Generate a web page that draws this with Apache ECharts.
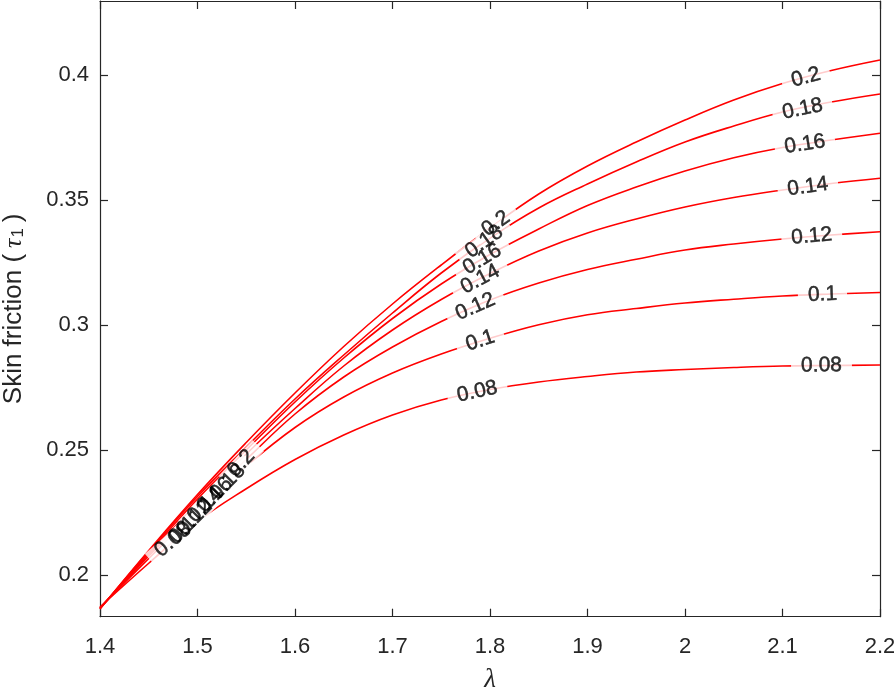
<!DOCTYPE html>
<html><head><meta charset="utf-8">
<script src="https://cdn.jsdelivr.net/npm/echarts@6/dist/echarts.min.js"></script>
<style>html,body{margin:0;padding:0;background:#fff}#c{width:894px;height:689px}</style>
</head><body><div id="c"></div>
<script>
// ---- data ----
const lambda = [1.4, 1.45, 1.5, 1.55, 1.6, 1.65, 1.7, 1.75, 1.8, 1.85, 1.9, 1.95, 2.0, 2.05, 2.1, 2.15, 2.2];
const levels = [0.08, 0.1, 0.12, 0.14, 0.16, 0.18, 0.2];
const tau008 = [0.1872, 0.2047, 0.2214, 0.2345, 0.2462, 0.2560, 0.2640, 0.2700, 0.2742, 0.2772, 0.2794, 0.2812, 0.2822, 0.2830, 0.2836, 0.2838, 0.2840];
const tau010 = [0.1870, 0.2066, 0.2260, 0.2436, 0.2590, 0.2712, 0.2808, 0.2884, 0.2947, 0.3001, 0.3041, 0.3066, 0.3088, 0.3103, 0.3116, 0.3124, 0.3130];
const tau012 = [0.1868, 0.2076, 0.2276, 0.2462, 0.2644, 0.2792, 0.2912, 0.3014, 0.3100, 0.3168, 0.3222, 0.3263, 0.3300, 0.3324, 0.3344, 0.3360, 0.3373];
const tau014 = [0.1867, 0.2082, 0.2288, 0.2484, 0.2666, 0.2836, 0.2980, 0.3102, 0.3206, 0.3296, 0.3368, 0.3424, 0.3472, 0.3510, 0.3540, 0.3566, 0.3587];
const tau016 = [0.1866, 0.2088, 0.2304, 0.2500, 0.2692, 0.2868, 0.3026, 0.3164, 0.3282, 0.3384, 0.3478, 0.3552, 0.3616, 0.3669, 0.3710, 0.3740, 0.3767];
const tau018 = [0.1865, 0.2094, 0.2314, 0.2512, 0.2704, 0.2880, 0.3048, 0.3208, 0.3348, 0.3468, 0.3564, 0.3652, 0.3732, 0.3796, 0.3852, 0.3892, 0.3924];
const tau020 = [0.1864, 0.2098, 0.2322, 0.2530, 0.2728, 0.2914, 0.3084, 0.3240, 0.3388, 0.3524, 0.3636, 0.3732, 0.3820, 0.3900, 0.3966, 0.4018, 0.4060];
// contour label anchor points (lambda, tau), one per level, in level order
const labelLeftLam  = [1.475, 1.485, 1.497, 1.508, 1.518, 1.531, 1.545];
const labelLeftTau  = [0.2140, 0.2180, 0.2228, 0.2280, 0.2320, 0.2372, 0.2446];
const labelMidLam   = [1.787, 1.790, 1.785, 1.790, 1.792, 1.794, 1.806];
const labelMidTau   = [0.2733, 0.2937, 0.3073, 0.3183, 0.3263, 0.3333, 0.3405];
const labelRightLam = [2.140, 2.141, 2.130, 2.126, 2.123, 2.1205, 2.124];
const labelRightTau = [0.2838, 0.3122, 0.3355, 0.3553, 0.3723, 0.3864, 0.3990];
const xTicks = [1.4, 1.5, 1.6, 1.7, 1.8, 1.9, 2.0, 2.1, 2.2];
const yTicks = [0.2, 0.25, 0.3, 0.35, 0.4];
const xName = 'λ';
const yName = 'Skin friction ({t|τ}{s|1})';

// ---- chart ----
const curves = [tau008, tau010, tau012, tau014, tau016, tau018, tau020];
const FONT = '"Liberation Sans", Arial, sans-serif';
const AX = '#262626';
const chart = echarts.init(document.getElementById('c'), null, {renderer: 'canvas'});
const fmt = v => String(parseFloat(Number(v).toFixed(3)));
const TICK_FONT = 22;

function makeAxis(pos, ticks, min, max, showLabel, extra) {
  return Object.assign({
    type: 'value', position: pos, min: min, max: max,
    axisLine: {show: true, onZero: false, lineStyle: {color: AX, width: 1.2}},
    axisTick: {show: true, inside: true, length: 8, customValues: ticks, lineStyle: {color: AX, width: 1.2}},
    axisLabel: {show: showLabel, customValues: ticks, color: AX, fontSize: TICK_FONT, fontFamily: FONT, formatter: fmt},
    splitLine: {show: false}
  }, extra || {});
}
const X0 = 1.4, X1 = 2.2, Y0 = 0.18332, Y1 = 0.4296;
const lineSeries = curves.map((c, k) => ({
  type: 'line', name: String(levels[k]), xAxisIndex: 0, yAxisIndex: 0,
  data: lambda.map((l, i) => [l, c[i]]),
  smooth: 0.4, showSymbol: false, silent: true,
  lineStyle: {color: '#ff0000', width: 1.6}, z: 2
}));
const option = {
  animation: false,
  backgroundColor: '#ffffff',
  grid: {left: 100, right: 14, top: 1, bottom: 72.3, containLabel: false, outerBoundsMode: 'none'},
  xAxis: [
    makeAxis('bottom', xTicks, X0, X1, true, {
      name: xName, nameLocation: 'middle', nameGap: 50,
      nameTextStyle: {fontFamily: '"Liberation Serif", serif', fontStyle: 'italic', fontSize: 27, color: AX},
      axisLabel: {show: true, customValues: xTicks, color: AX, fontSize: TICK_FONT, fontFamily: FONT, formatter: fmt, margin: 19}
    }),
    makeAxis('top', xTicks, X0, X1, false)
  ],
  yAxis: [
    makeAxis('left', yTicks, Y0, Y1, true, {
      name: yName, nameLocation: 'middle', nameGap: 73, nameRotate: 90,
      nameTextStyle: {fontFamily: FONT, fontSize: 26, color: AX,
        rich: {
          t: {fontFamily: '"Liberation Serif", serif', fontStyle: 'italic', fontSize: 26, color: AX, padding: [0, 1, 0, 6]},
          s: {fontFamily: FONT, fontSize: 17, color: AX, verticalAlign: 'bottom', padding: [0, 6, 0, 0]}
        }},
      axisLabel: {show: true, customValues: yTicks, color: AX, fontSize: TICK_FONT, fontFamily: FONT, formatter: fmt, margin: 11}
    }),
    makeAxis('right', yTicks, Y0, Y1, false)
  ],
  series: lineSeries
};
chart.setOption(option);

// label rotation from the local direction of each curve (via the axes' scales)
function angleAt(c, lam) {
  let i = 0;
  while (i < lambda.length - 2 && lambda[i + 1] < lam) i++;
  const p1 = chart.convertToPixel({gridIndex: 0}, [lambda[i], c[i]]);
  const p2 = chart.convertToPixel({gridIndex: 0}, [lambda[i + 1], c[i + 1]]);
  return Math.atan2(p1[1] - p2[1], p2[0] - p1[0]) * 180 / Math.PI;
}
const labelItems = [];
[[labelLeftLam, labelLeftTau], [labelMidLam, labelMidTau], [labelRightLam, labelRightTau]].forEach(([L, T]) => {
  levels.forEach((lv, k) => {
    labelItems.push({name: String(lv), value: [L[k], T[k]], rot: angleAt(curves[k], L[k])});
  });
});
const LBL_FONT = 21;
const boxSeries = {
  type: 'scatter', xAxisIndex: 0, yAxisIndex: 0, symbolSize: 1, silent: true, z: 3,
  itemStyle: {color: 'rgba(0,0,0,0)'},
  data: labelItems.map(d => ({name: d.name, value: d.value, label: {rotate: d.rot}})),
  label: {show: true, position: 'inside', formatter: '{b}', fontSize: LBL_FONT, fontFamily: FONT,
    color: 'rgba(0,0,0,0)', textBorderWidth: 0, backgroundColor: '#ffffff', padding: [0, 10], lineHeight: 16}
};
const textSeries = {
  type: 'scatter', xAxisIndex: 0, yAxisIndex: 0, symbolSize: 1, silent: true, z: 4,
  itemStyle: {color: 'rgba(0,0,0,0)'},
  data: labelItems.map(d => ({name: d.name, value: d.value, label: {rotate: d.rot}})),
  label: {show: true, position: 'inside', formatter: '{b}', fontSize: LBL_FONT, fontFamily: FONT,
    color: '#000000', textBorderColor: '#000000', textBorderWidth: 0.5}
};
chart.setOption({series: lineSeries.concat([boxSeries, textSeries])});
</script></body></html>
